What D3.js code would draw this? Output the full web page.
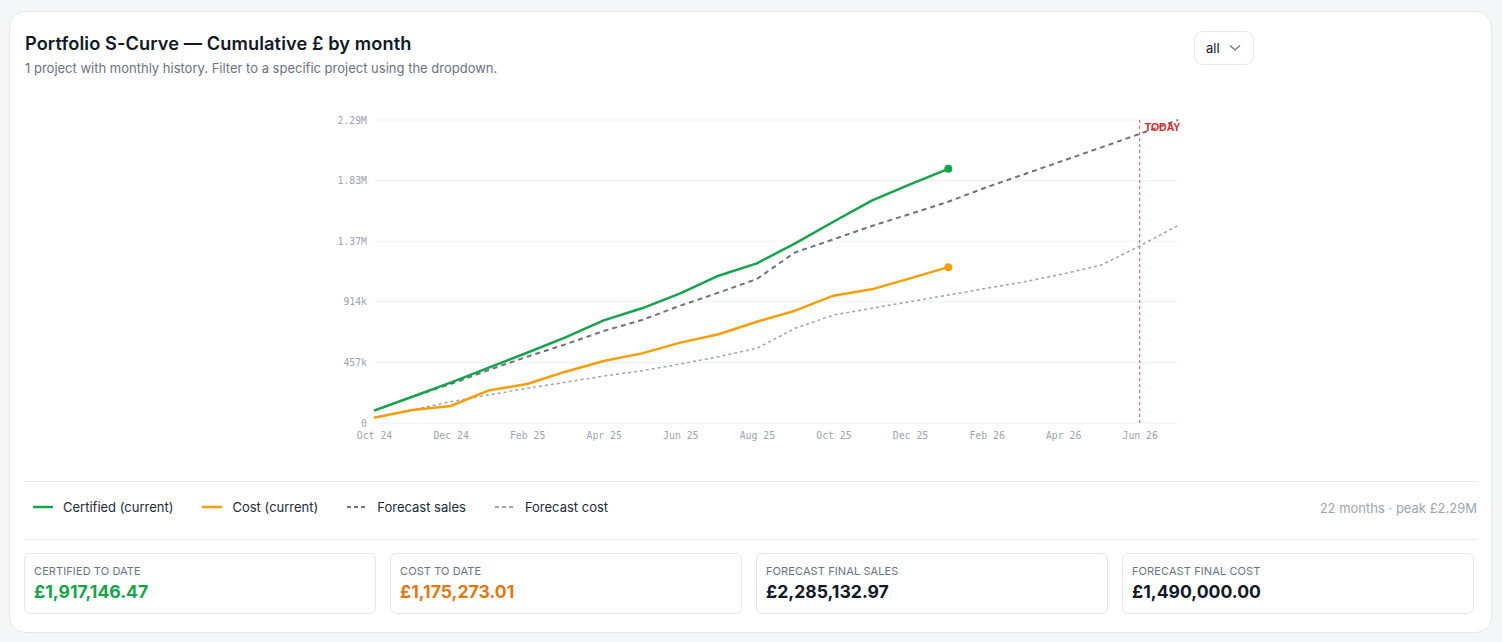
<!DOCTYPE html>
<html>
<head>
<meta charset="utf-8">
<script src="https://cdn.jsdelivr.net/npm/d3@7"></script>
<style>
  html, body { margin: 0; padding: 0; background: #f5f6f8; font-family: Inter, "Noto Sans", sans-serif; }
  .card { position: absolute; left: 9px; top: 11px; width: 1481px; height: 620px; background: #fff;
    border: 1px solid #e5e7eb; border-radius: 16px; }
  .title { position: absolute; left: 15px; top: 20px; font-size: 18.2px; font-weight: 600; color: #111827; letter-spacing: 0.1px; }
  .sub { position: absolute; left: 15px; top: 48px; font-size: 13px; color: #6b7280; }
  .select { position: absolute; left: 1184px; top: 19px; width: 60px; height: 34px; border: 1px solid #e5e7eb;
    border-radius: 9px; box-sizing: border-box; font-size: 13px; color: #111827; }
  .select span { position: absolute; left: 11px; top: 8px; }
  .select svg { position: absolute; left: 34px; top: 12px; }
  .rule { position: absolute; left: 14px; width: 1453px; height: 1px; background: #e5e7eb; }
  .legend { position: absolute; left: 23px; top: 487px; font-size: 13px; color: #1f2937; display: flex; }
  .legend .item { display: flex; align-items: center; margin-right: 29px; }
  .legend svg { margin-right: 10px; }
  .meta { position: absolute; right: 14px; top: 488px; font-size: 13px; color: #9ca3af; }
  .kpis { position: absolute; left: 14px; top: 541px; display: flex; }
  .kpi { width: 352px; height: 61px; box-sizing: border-box; border: 1px solid #e5e7eb; border-radius: 6px;
    margin-right: 14px; position: relative; }
  .kpi .lab { position: absolute; left: 9px; top: 10px; font-size: 11px; color: #6b7280; text-transform: uppercase; letter-spacing: 0.1px; }
  .kpi .val { position: absolute; left: 9px; top: 27px; font-size: 17.6px; font-weight: 700; color: #111827; }
  #chart { position: absolute; left: 0; top: 0; z-index: 2; }
</style>
</head>
<body>
<div class="card">
  <div class="title">Portfolio S-Curve — Cumulative £ by month</div>
  <div class="sub">1 project with monthly history. Filter to a specific project using the dropdown.</div>
  <div class="select"><span>all</span><svg width="12" height="8"><path d="M1,1.5 L6,6 L11,1.5" fill="none" stroke="#6b7280" stroke-width="1.3"/></svg></div>
  <div class="rule" style="top:469px"></div>
  <div class="legend" id="legend"></div>
  <div class="meta" id="meta"></div>
  <div class="rule" style="top:527px"></div>
  <div class="kpis" id="kpis"></div>
</div>
<svg id="chart" width="1502" height="460"></svg>
<script>
"use strict";

/* Data */
const months = ["Oct 24","Nov 24","Dec 24","Jan 25","Feb 25","Mar 25","Apr 25","May 25","Jun 25","Jul 25","Aug 25",
  "Sep 25","Oct 25","Nov 25","Dec 25","Jan 26","Feb 26","Mar 26","Apr 26","May 26","Jun 26","Jul 26"];
const certified = [93000,198000,304000,417000,530000,646000,774000,865000,978000,1111000,1204000,
  1355000,1518000,1677000,1800000,1917146.47];
const cost = [40000,98000,128000,246000,294000,387000,468000,525000,606000,669000,764000,
  847000,960000,1008000,1091000,1175273.01];
const forecastSales = [93000,198000,294000,400000,500000,593000,694000,777000,885000,983000,1086000,
  1287000,1385000,1486000,1576000,1669000,1778000,1878000,1978000,2079000,2180000,2285132.97];
const forecastCost = [40000,98000,161000,211000,262000,307000,354000,394000,445000,500000,563000,
  714000,814000,865000,915000,965000,1016000,1066000,1124000,1192000,1335000,1490000];
const todayMonth = "Jun 26";
const kpiLabels = ["Certified to date","Cost to date","Forecast final sales","Forecast final cost"];
const kpiValues = [1917146.47, 1175273.01, 2285132.97, 1490000];

/* Setup */
const svg = d3.select("#chart");
const peak = d3.max(forecastSales);
const x = d3.scalePoint().domain(months).range([374, 1178]);
const y = d3.scaleLinear().domain([0, peak]).range([423, 120]);
const yTicks = d3.range(0, 6).map(i => peak * i / 5);
const fmtY = v => v === 0 ? "0" : v >= 1e6 ? (v / 1e6).toFixed(2) + "M" : Math.round(v / 1e3) + "k";

/* Grid */
svg.append("g").selectAll("line").data(yTicks).enter().append("line")
  .attr("x1", 375).attr("x2", 1177)
  .attr("y1", d => y(d)).attr("y2", d => y(d))
  .attr("stroke", "#eef0f2").attr("stroke-width", 1);

const yAxis = svg.append("g").attr("transform", "translate(374,0)")
  .call(d3.axisLeft(y).tickValues(yTicks).tickFormat(fmtY).tickSize(0).tickPadding(7));
yAxis.select(".domain").remove();
yAxis.selectAll("text").attr("fill", "#9ca3af").style("font-family", "'DejaVu Sans Mono', monospace").style("font-size", "9.8px");

const xAxis = svg.append("g").attr("transform", "translate(0,426)")
  .call(d3.axisBottom(x).tickValues(months.filter((m, i) => i % 2 === 0)).tickSize(0).tickPadding(6));
xAxis.select(".domain").remove();
xAxis.selectAll("text").attr("fill", "#9ca3af").style("font-family", "'DejaVu Sans Mono', monospace").style("font-size", "9.8px");

/* Today */
svg.append("line")
  .attr("x1", x(todayMonth)).attr("x2", x(todayMonth))
  .attr("y1", y(peak)).attr("y2", y(0))
  .attr("stroke", "#b91c1c").attr("stroke-opacity", 0.75).attr("stroke-dasharray", "3,3").attr("stroke-width", 1);

/* Series */
const line = d3.line().x((d, i) => x(months[i])).y(d => y(d));
const series = [
  { name: "Forecast cost", data: forecastCost, color: "#9ca3af", width: 1.5, dash: "3,3" },
  { name: "Forecast sales", data: forecastSales, color: "#6b7280", width: 2, dash: "5,4" },
  { name: "Cost (current)", data: cost, color: "#f59e0b", width: 2.5, dash: null, dot: true },
  { name: "Certified (current)", data: certified, color: "#16a34a", width: 2.5, dash: null, dot: true }
];
series.forEach(s => {
  svg.append("path").datum(s.data)
    .attr("d", line).attr("fill", "none")
    .attr("stroke", s.color).attr("stroke-width", s.width)
    .attr("stroke-dasharray", s.dash).attr("stroke-linejoin", "round");
  if (s.dot) {
    const i = s.data.length - 1;
    svg.append("circle").attr("cx", x(months[i])).attr("cy", y(s.data[i])).attr("r", 4).attr("fill", s.color);
  }
});

svg.append("text")
  .attr("x", x(todayMonth) + 5).attr("y", y(peak) + 11)
  .attr("fill", "#dc2626").style("font-family", "Arial, 'Liberation Sans', sans-serif")
  .style("font-size", "10.5px").style("font-weight", 700).text("TODAY");

/* Legend */
const legendOrder = ["Certified (current)", "Cost (current)", "Forecast sales", "Forecast cost"];
const items = d3.select("#legend").selectAll(".item")
  .data(legendOrder.map(n => series.find(s => s.name === n)))
  .enter().append("div").attr("class", "item");
const sw = items.append("svg").attr("width", 20).attr("height", 6);
sw.append("line").attr("x1", 0).attr("x2", 20).attr("y1", 3).attr("y2", 3)
  .attr("stroke", d => d.color).attr("stroke-width", d => d.dash ? 2 : 2.5)
  .attr("stroke-dasharray", d => d.dash ? "4,3" : null);
items.append("span").text(d => d.name);

d3.select("#meta").text(`${months.length} months · peak £${(peak / 1e6).toFixed(2)}M`);

/* KPIs */
const kpiColors = ["#16a34a", "#e07a10", "#111827", "#111827"];
const fmtGBP = d3.format(",.2f");
const k = d3.select("#kpis").selectAll(".kpi").data(kpiLabels).enter()
  .append("div").attr("class", "kpi").style("margin-right", (d, i) => i === 3 ? "0px" : "14px");
k.append("div").attr("class", "lab").text(d => d);
k.append("div").attr("class", "val").style("color", (d, i) => kpiColors[i]).text((d, i) => "£" + fmtGBP(kpiValues[i]));
</script>
</body>
</html>
